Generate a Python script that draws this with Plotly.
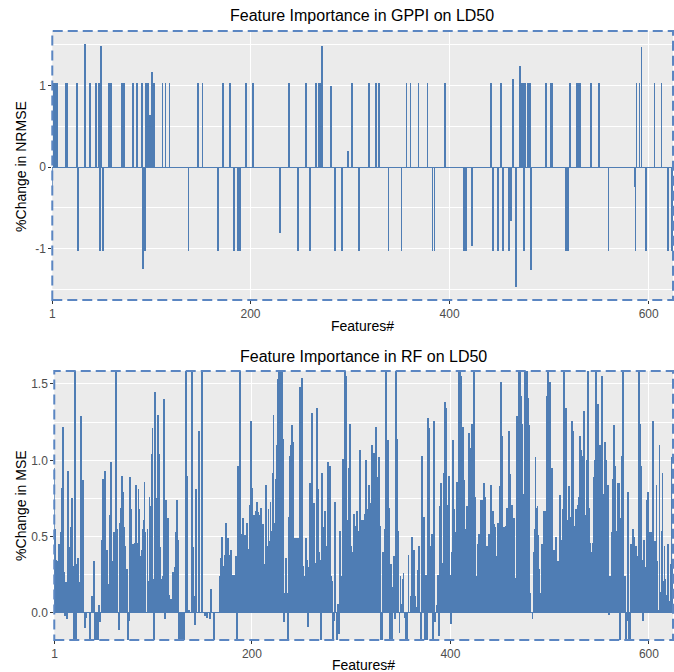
import plotly.graph_objects as go

# ---------------- data ----------------
# GPPI: %change in NRMSE per feature (only non-zero features listed)
gppi_features = [
    1, 3, 5, 6, 15, 16, 26, 27, 34, 39, 45, 48, 49, 50, 52, 58, 60, 71, 73, 82,
    86, 91, 92, 94, 95, 97, 99, 101, 103, 112, 115, 119, 138, 147, 148, 152, 168,
    173, 180, 184, 188, 190, 196, 203, 230, 239, 248, 256, 260, 266, 269, 271,
    272, 281, 285, 292, 298, 302, 309, 319, 326, 329, 339, 352, 357, 361, 369,
    378, 383, 385, 396, 415, 417, 423, 442, 444, 449, 452, 454, 460, 462, 464,
    467, 471, 473, 474, 475, 476, 479, 481, 482, 497, 502, 503, 517, 519, 521,
    528, 530, 531, 542, 550, 560, 586, 587, 588, 591, 593, 597, 598, 606, 613,
    620, 624,
]
gppi_values = [
    -0.23, 1.03, 1.03, 1.03, 1.03, 1.03, 1.03, -1.03, 1.51, 1.03, 1.03, 1.03, -1.03, 1.48, -1.03, 1.03, 1.03, 1.03, 1.03, 1.03,
    1.03, 1.03, -1.25, -1.03, 1.03, 1.03, 0.64, 1.17, 1.03, 1.03, 1.03, 1.03, -1.03, 1.03, 1.03, 1.03, -1.03,
    1.03, 1.03, -1.03, -1.03, -1.03, 1.03, 1.03, -0.81, 1.03, -1.03, 1.03, -1.03, 1.03, 1.03, 1.03,
    1.48, 1.00, -1.03, -1.03, 0.20, 1.03, -1.03, 1.03, 1.03, 1.03, -1.03, -1.03, 1.03, 1.03, 1.03,
    1.03, -1.03, -1.03, 1.03, -1.03, -1.03, -0.97, 1.03, -1.03, -1.03, 1.03, -1.03, -1.03, -0.66, 1.08,
    -1.47, 1.24, 1.03, 1.03, -1.03, 1.03, 1.03, 1.03, -1.26, 1.03, 1.03, 1.03, -1.03, -1.03, 1.03,
    1.03, 1.03, 1.03, 1.03, 1.03, -1.03, -0.25, -1.03, 1.03, 1.03, 1.47, -1.03, -1.03, 1.03, 1.03,
    -1.03, -1.03,
]

# RF: %change in MSE for every feature, 1..625
rf_mse = [
    0.95, 0.55, 0.35, 0.34, 0.33, 0.45, 0.30, 0.53, 0.82, 1.22,
    0.27, -0.02, 0.20, -0.04, 0.93, 0.01, 0.43, 0.56, 0.75, 0.31,
    -0.20, 1.70, -0.20, 0.32, 0.36, 0.20, 0.00, 1.29, 0.24, 0.87,
    0.00, -0.10, -0.03, 0.00, 0.00, 0.00, -0.20, 0.00, 0.11, 0.02,
    0.34, -0.20, 0.00, -0.20, -0.20, 0.05, -0.06, 0.00, 0.48, 0.88,
    0.34, 0.93, 0.40, 0.41, 0.19, 0.18, 0.64, 0.99, 0.12, 0.34,
    0.53, 0.36, 1.70, 0.55, 0.00, -0.11, 0.59, 0.69, 0.90, 0.79,
    0.56, 0.44, 0.18, 0.29, -0.20, -0.05, 0.89, 0.68, 0.44, 0.45,
    0.18, 0.46, 0.84, 0.46, 0.21, 0.81, 0.68, 0.37, 0.41, 0.55,
    0.61, 0.86, 0.53, 0.00, 0.55, 0.21, 0.76, 0.70, 1.04, 1.21,
    0.22, -0.20, 1.45, 0.75, 0.37, 1.30, 1.04, 0.43, 0.07, 0.22,
    0.24, 1.40, -0.04, 0.74, 0.27, 0.62, 0.12, 0.09, 0.09, 0.00,
    0.27, 0.26, 0.30, 0.53, 0.74, 0.48, -0.20, -0.20, -0.20, -0.20,
    0.00, -0.20, 0.00, 1.70, 0.90, 0.00, 0.02, 0.00, 0.00, 1.70,
    0.43, 0.11, -0.08, 0.81, 0.00, 0.00, 1.19, 0.00, 0.00, 1.70,
    0.00, 0.00, -0.02, 0.00, -0.03, 0.00, 0.00, -0.04, 0.16, 0.00,
    0.00, -0.20, 0.00, 0.00, 0.00, 0.00, 0.00, 0.24, 0.36, 0.50,
    0.12, 0.31, 0.38, 0.59, 0.31, 0.49, 0.38, 0.13, 0.41, 0.25,
    0.00, 0.25, 0.24, 0.37, -0.20, 0.96, 0.31, 1.70, 0.22, 0.52,
    0.62, 0.51, 0.51, 0.31, 0.59, 0.34, 0.42, 0.71, 1.26, 0.82,
    0.61, 0.64, 0.61, 0.67, 0.73, 0.66, 0.64, 0.10, 0.69, 0.43,
    0.58, 0.03, 0.32, 0.84, 0.44, 0.20, 0.68, 0.47, 0.73, 0.54,
    0.92, 1.30, 0.59, 0.88, 1.10, 1.53, 1.60, 1.70, 1.70, 1.29,
    1.60, 1.14, -0.06, 0.13, 0.36, 0.13, -0.20, 0.63, 1.03, 1.10,
    1.23, 1.12, 0.49, 0.11, 0.49, 0.11, 0.49, 0.06, 1.48, 0.44,
    1.54, 0.31, 0.24, 0.08, 0.49, 0.35, -0.09, 0.30, 0.85, 0.33,
    1.31, 0.50, 0.72, 0.33, 0.21, 1.34, 0.81, 0.40, 0.35, -0.20,
    0.92, 0.37, 0.56, 0.67, 0.27, 0.44, 0.99, 0.91, 0.96, 0.24,
    0.21, -0.20, -0.05, 0.73, 0.00, -0.20, 0.06, -0.14, 0.54, 0.12,
    0.24, 1.01, 0.86, 1.59, 1.55, 0.23, 0.61, 0.95, 1.24, 0.44,
    0.30, 0.40, 0.65, 0.57, 0.49, 0.67, 0.54, 0.53, 1.07, 0.30,
    0.61, 0.34, 0.61, 0.65, 1.00, 0.55, 0.68, 0.84, 0.60, 0.72,
    1.10, 0.65, 1.05, 0.43, 1.22, 0.89, 0.48, 1.02, 0.57, -0.20,
    -0.20, 0.40, 0.01, 0.55, 1.70, 1.05, 1.13, 0.69, -0.20, 0.32,
    -0.20, 0.17, 0.37, -0.04, 1.70, 1.14, 0.02, 0.54, -0.13, 0.24,
    0.06, 0.22, 0.26, -0.03, -0.20, -0.20, -0.20, 0.38, 0.00, 0.11,
    0.00, 0.50, 0.10, 0.41, 0.11, 0.04, 0.00, 0.28, 0.44, 0.00,
    -0.20, 1.03, 0.09, 0.63, -0.20, 0.25, -0.20, 1.28, 1.21, 0.36,
    0.44, 0.52, -0.20, 1.26, -0.06, 0.00, 0.05, 0.25, -0.15, 0.70,
    0.85, 0.33, 0.15, 0.92, 1.38, 1.34, 0.71, 0.56, 0.90, 0.25,
    -0.07, 0.40, 1.13, 0.68, 0.53, 0.21, 0.86, 0.43, 1.60, 1.65,
    1.55, 0.70, 1.22, 0.87, 0.55, 0.53, 0.70, 0.33, 1.18, 1.08,
    0.78, 1.24, 0.77, 1.70, 0.76, 0.24, 0.17, 0.45, 0.52, 0.46,
    0.74, 0.69, 0.74, 0.85, 0.76, 0.18, 0.44, 0.01, 0.52, 0.14,
    0.84, 0.48, 0.67, 0.58, 0.56, 0.37, 0.29, 0.59, 0.43, 0.83,
    1.51, 1.16, 0.53, 0.56, 0.37, 0.57, 0.69, 0.37, 1.19, 0.91,
    0.71, 0.71, 0.62, 0.62, 0.09, 0.23, 1.29, 0.73, 1.65, 1.70,
    1.42, 1.24, 0.78, 0.13, 1.65, 1.08, 1.70, 1.42, 1.41, 1.23,
    0.13, 0.00, -0.04, 0.40, 0.55, 1.02, 0.69, 0.70, 0.51, 0.29,
    0.13, 0.45, 0.45, 0.21, 0.67, 0.67, 0.65, 1.42, 1.60, 1.21,
    1.51, 0.67, 0.95, 0.33, 0.41, 0.41, 0.50, 0.27, 0.34, 0.27,
    0.77, 0.37, 0.48, 0.68, 1.70, 0.75, 1.34, 0.41, 0.61, 0.83,
    0.37, 0.63, 1.26, 1.19, 0.57, 0.50, 0.68, 0.30, 0.71, 0.76,
    1.16, 1.07, 0.93, 1.03, 1.32, 0.64, 0.55, 1.00, 1.70, 0.69,
    0.46, 0.40, 0.38, 0.46, 0.89, 1.00, 1.70, 0.73, 1.37, 0.56,
    1.10, 0.92, 1.55, 0.11, 0.78, 1.12, 1.00, 0.48, 0.84, -0.01,
    0.24, 0.21, 0.53, 0.88, 1.23, 0.96, 0.54, 0.40, 0.85, 0.85,
    -0.20, 0.62, 1.03, 1.70, 0.20, 0.24, -0.20, -0.05, 0.79, -0.20,
    -0.20, 0.45, 0.10, 0.55, 0.50, 0.21, 0.44, 0.36, 0.37, 1.70,
    1.24, 0.96, 0.35, -0.05, 0.48, 0.28, 0.30, 0.74, 0.79, 0.36,
    0.53, 0.25, 0.53, 1.26, 0.02, 0.47, 0.33, 0.84, 0.34, 0.02,
    1.10, 0.14, 0.54, 0.92, 0.21, 0.44, 0.22, 0.12, 0.45, 0.45,
    0.08, 0.32, 1.02, 0.31, 0.30,
]
rf_features = list(range(1, len(rf_mse) + 1))

x_tick_vals = [1, 200, 400, 600]
x_tick_text = ["1", "200", "400", "600"]
gppi_tick_vals = [-1, 0, 1]
gppi_tick_text = ["-1", "0", "1"]
rf_tick_vals = [0.0, 0.5, 1.0, 1.5]
rf_tick_text = ["0.0", "0.5", "1.0", "1.5"]

# ---------------- styling ----------------
W, H = 674, 672
BAR = "#4F7DB4"
BORDER = "#5B86C2"
PANEL = "#EBEBEB"
FONT = "Liberation Sans, Arial, sans-serif"


def py(px):
    """Convert a pixel row (from top) to paper y."""
    return 1 - px / H


def px_(x):
    return x / W


fig = go.Figure()

fig.add_trace(go.Bar(
    x=gppi_features, y=gppi_values, width=0.75,
    marker=dict(color=BAR, line=dict(width=0)),
    xaxis="x", yaxis="y", showlegend=False,
))
fig.add_trace(go.Bar(
    x=rf_features, y=rf_mse, width=0.9,
    marker=dict(color=BAR, line=dict(width=0)),
    xaxis="x2", yaxis="y2", showlegend=False,
))

axis_common = dict(
    showline=False, ticks="outside", ticklen=3, tickwidth=1, tickcolor="#333333",
    tickfont=dict(family=FONT, size=12, color="#4D4D4D"),
    gridcolor="white", gridwidth=1.1, showgrid=True,
)

fig.update_layout(
    width=W, height=H,
    margin=dict(l=0, r=0, t=0, b=0),
    paper_bgcolor="white", plot_bgcolor=PANEL,
    bargap=0,
    font=dict(family=FONT),
    xaxis=dict(
        domain=[px_(49.5), px_(673)], range=[0.9, 624.4], anchor="y",
        tickvals=x_tick_vals, ticktext=x_tick_text, zeroline=False, **axis_common,
    ),
    yaxis=dict(
        domain=[py(300), py(31)], range=[-1.632, 1.669], anchor="x",
        tickvals=gppi_tick_vals, ticktext=gppi_tick_text,
        zeroline=True, zerolinecolor=BAR, zerolinewidth=1,
        minor=dict(tickvals=[-1.5, -0.5, 0.5, 1.5], showgrid=True,
                   gridcolor="white", gridwidth=0.5, ticks=""),
        **axis_common,
    ),
    xaxis2=dict(
        domain=[px_(51.5), px_(673)], range=[0.8, 624.3], anchor="y2",
        tickvals=x_tick_vals, ticktext=x_tick_text, zeroline=False, **axis_common,
    ),
    yaxis2=dict(
        domain=[py(640), py(371)], range=[-0.177, 1.585], anchor="x2",
        tickvals=rf_tick_vals, ticktext=rf_tick_text,
        zeroline=True, zerolinecolor=BAR, zerolinewidth=1,
        minor=dict(tickvals=[0.25, 0.75, 1.25], showgrid=True,
                   gridcolor="white", gridwidth=0.5, ticks=""),
        **axis_common,
    ),
)

# dashed panel borders
for xr, yr in (("x", "y"), ("x2", "y2")):
    fig.add_shape(
        type="rect", xref=f"{xr} domain", yref=f"{yr} domain",
        x0=0, x1=1, y0=0, y1=1, layer="above",
        line=dict(color=BORDER, width=2, dash="10px,5px"),
    )

# titles and axis titles
texts = [
    ("Feature Importance in GPPI on LD50", 361, 15, 16, 0),
    ("Features#", 361, 326, 14, 0),
    ("%Change in NRMSE", 18, 166, 14, -90),
    ("Feature Importance in RF on LD50", 362, 356, 16, 0),
    ("Features#", 362, 665, 14, 0),
    ("%Change in MSE", 18, 505, 14, -90),
]
for t, x, y, s, ang in texts:
    fig.add_annotation(
        text=t, x=px_(x), y=py(y), xref="paper", yref="paper",
        xanchor="center", yanchor="middle", showarrow=False, textangle=ang,
        font=dict(family=FONT, size=s, color="black"),
    )

fig.write_html("out.html")
